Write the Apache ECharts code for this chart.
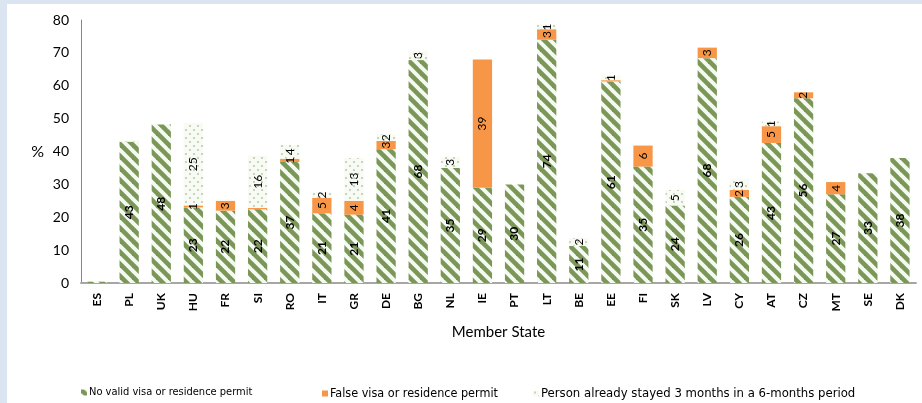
<!DOCTYPE html>
<html>
<head>
<meta charset="utf-8">
<script src="https://cdn.jsdelivr.net/npm/echarts@6/dist/echarts.min.js"></script>
<style>
html,body{margin:0;padding:0;background:#dbe5f1;}
#panel{position:absolute;left:7px;top:4px;right:0;bottom:0;background:#ffffff;}
#chart{position:absolute;left:0;top:0;width:922px;height:403px;}
</style>
</head>
<body>
<div id="panel"></div>
<div id="chart"></div>
<script>
const categories = ['ES','PL','UK','HU','FR','SI','RO','IT','GR','DE','BG','NL','IE','PT','LT','BE','EE','FI','SK','LV','CY','AT','CZ','MT','SE','DK'];
const noValidVisa = [0.4,43,48.2,23,22,22.4,36.8,21.2,20.8,40.7,67.8,35,29,30,74,11.3,61.3,35.4,23.6,68.4,26.2,42.6,56.2,27,33.4,38];
const falseVisa   = [0,0,0,0.6,3,0.4,1,4.7,4.2,2.5,0,0,39,0,3.2,0,0.4,6.4,0,3.2,2.1,5.1,1.8,3.7,0,0];
const alreadyStayed = [0,0.4,0,25,0.4,16,4.2,1.7,13,2,2.8,3.4,0,0,1.4,2.3,1.4,0,4.7,0,3.3,1.4,0,0,0,0];
const yTicks = [0,10,20,30,40,50,60,70,80];
const legendNames = ['No valid visa or residence permit','False visa or residence permit','Person already stayed 3 months in a 6-months period'];

function stripePattern(){
  const c = document.createElement('canvas');
  const s = 12;
  c.width = s; c.height = s;
  const g = c.getContext('2d');
  g.fillStyle = '#f4faef';
  g.fillRect(0,0,s,s);
  g.strokeStyle = '#7b9758';
  g.lineWidth = 4.6;
  for (const k of [-s,0,s]){
    g.beginPath(); g.moveTo(k-2,-2); g.lineTo(k+s+2,s+2); g.stroke();
  }
  return c;
}
function dotPattern(){
  const c = document.createElement('canvas');
  const s = 8;
  c.width = s; c.height = s;
  const g = c.getContext('2d');
  g.fillStyle = '#f7fbf3';
  g.fillRect(0,0,s,s);
  g.fillStyle = '#b9c8ad';
  g.beginPath(); g.arc(2,2,1,0,Math.PI*2); g.fill();
  g.beginPath(); g.arc(6,6,1,0,Math.PI*2); g.fill();
  return c;
}
const stripes = {image: stripePattern(), repeat:'repeat'};
const dots = {image: dotPattern(), repeat:'repeat'};
const FONT = 'Lato, "Open Sans", sans-serif';
const LFONT = '"DejaVu Sans Condensed", "Liberation Sans Narrow", sans-serif';

function fmt(p){ const r = Math.round(p.value); return r >= 1 ? String(r) : ''; }
function lbl(bold){
  return {show:true, position:'inside', rotate:90, formatter:fmt, color:'#000',
          fontFamily:FONT, fontSize:12, fontWeight: bold ? 'bold':'normal'};
}
function legendAt(left, name, size){
  return {orient:'horizontal', top:382, left:left, itemWidth:6, itemHeight:6, itemGap:0,
    icon:'rect', data:[name],
    textStyle:{fontFamily:LFONT, fontSize:size, color:'#000', padding:[0,0,0,-3]}};
}
const chart = echarts.init(document.getElementById('chart'), null, {renderer:'canvas'});
chart.setOption({
  backgroundColor:'transparent',
  animation:false,
  grid:{left:81, right:6, top:20, bottom:120, containLabel:false},
  legend:[
    legendAt(76, legendNames[0], 11),
    legendAt(317, legendNames[1], 12.5),
    legendAt(528, legendNames[2], 13)
  ],
  xAxis:{
    type:'category', data:categories,
    name:'Member State', nameLocation:'middle', nameGap:42,
    nameTextStyle:{fontFamily:FONT, fontSize:15, color:'#000'},
    axisLine:{lineStyle:{color:'#a6a6a6', width:2}},
    axisTick:{show:false},
    axisLabel:{rotate:90, margin:10, interval:0, fontFamily:FONT, fontSize:12, fontWeight:'bold', color:'#000'}
  },
  yAxis:{
    type:'value', min:yTicks[0], max:yTicks[yTicks.length-1], interval:10,
    name:'%', nameLocation:'middle', nameRotate:0, nameGap:37,
    nameTextStyle:{fontFamily:FONT, fontSize:16, color:'#000'},
    axisLine:{show:true, lineStyle:{color:'#868686', width:1}},
    axisTick:{show:false},
    splitLine:{show:false},
    axisLabel:{margin:12, fontFamily:FONT, fontSize:14, color:'#000'}
  },
  series:[
    {name:legendNames[0], type:'bar', stack:'t', data:noValidVisa, barWidth:'60%',
     itemStyle:{color:stripes}, label:lbl(true)},
    {name:legendNames[1], type:'bar', stack:'t', data:falseVisa, barWidth:'60%',
     itemStyle:{color:'#f79646'}, label:lbl(false)},
    {name:legendNames[2], type:'bar', stack:'t', data:alreadyStayed, barWidth:'60%',
     itemStyle:{color:dots}, label:lbl(false)}
  ]
});
</script>
</body>
</html>
